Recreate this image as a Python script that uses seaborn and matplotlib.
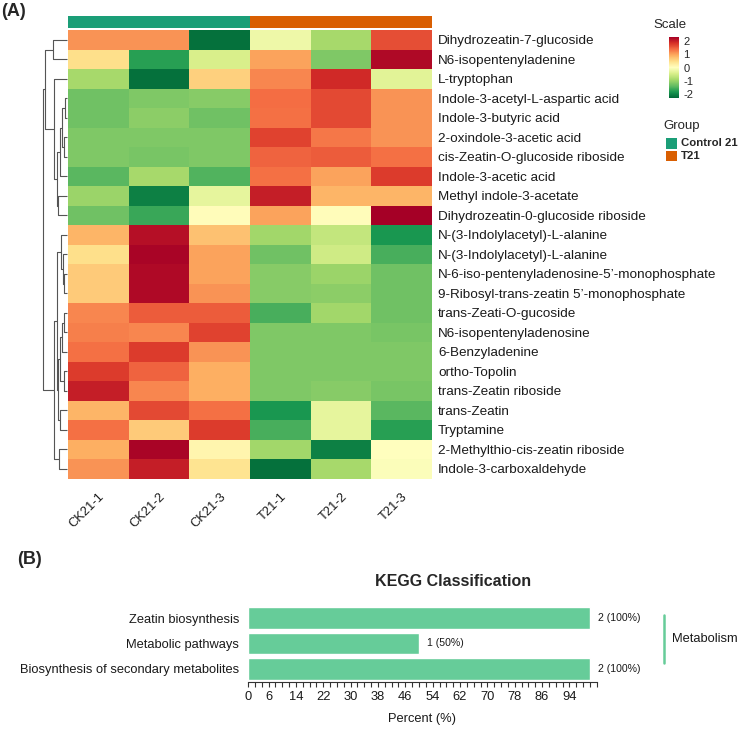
import numpy as np
import pandas as pd
import matplotlib
matplotlib.use("Agg")
import matplotlib.pyplot as plt
import seaborn as sns
from matplotlib.colors import ListedColormap
from matplotlib.patches import Rectangle
from matplotlib.lines import Line2D

# ---------------- data ----------------
metabolites = [
    "Dihydrozeatin-7-glucoside", "N6-isopentenyladenine", "L-tryptophan",
    "Indole-3-acetyl-L-aspartic acid", "Indole-3-butyric acid", "2-oxindole-3-acetic acid",
    "cis-Zeatin-O-glucoside riboside", "Indole-3-acetic acid", "Methyl indole-3-acetate",
    "Dihydrozeatin-0-glucoside riboside", "N-(3-Indolylacetyl)-L-alanine",
    "N-(3-Indolylacetyl)-L-alanine", "N-6-iso-pentenyladenosine-5\u2019-monophosphate",
    "9-Ribosyl-trans-zeatin 5\u2019-monophosphate", "trans-Zeati-O-gucoside",
    "N6-isopentenyladenosine", "6-Benzyladenine", "ortho-Topolin", "trans-Zeatin riboside",
    "trans-Zeatin", "Tryptamine", "2-Methylthio-cis-zeatin riboside", "Indole-3-carboxaldehyde",
]
samples = ["CK21-1", "CK21-2", "CK21-3", "T21-1", "T21-2", "T21-3"]
sample_groups = ["Control 21", "Control 21", "Control 21", "T21", "T21", "T21"]
group_names = ["Control 21", "T21"]
group_colors = ["#1B9E77", "#D95F02"]

ck21_1 = [1.1, 0.45, -0.9, -1.3, -1.3, -1.2, -1.2, -1.45, -1.0, -1.3, 0.85, 0.45,
          0.65, 0.65, 1.2, 1.25, 1.35, 1.75, 2.0, 0.85, 1.35, 0.9, 1.1]
ck21_2 = [1.1, -1.75, -2.2, -1.2, -1.1, -1.2, -1.25, -0.9, -2.05, -1.65, 2.15, 2.25,
          2.2, 2.2, 1.5, 1.2, 1.75, 1.45, 1.2, 1.65, 0.65, 2.25, 2.0]
ck21_3 = [-2.2, -0.45, 0.6, -1.15, -1.3, -1.2, -1.2, -1.5, -0.3, 0.05, 0.75, 1.0,
          1.0, 1.1, 1.5, 1.7, 1.1, 0.9, 0.9, 1.35, 1.75, 0.15, 0.4]
t21_1 = [-0.2, 1.0, 1.2, 1.38, 1.35, 1.7, 1.45, 1.35, 2.0, 1.0, -0.95, -1.3,
         -1.15, -1.15, -1.55, -1.2, -1.2, -1.2, -1.2, -1.85, -1.55, -0.95, -2.2]
t21_2 = [-0.9, -1.2, 1.9, 1.65, 1.65, 1.3, 1.5, 1.0, 0.85, 0.05, -0.65, -0.55,
         -1.0, -1.1, -0.95, -1.2, -1.2, -1.2, -1.15, -0.3, -0.3, -2.05, -0.9]
t21_3 = [1.6, 2.2, -0.35, 1.1, 1.1, 1.1, 1.35, 1.75, 0.85, 2.3, -1.85, -1.55,
         -1.3, -1.3, -1.3, -1.25, -1.2, -1.2, -1.25, -1.45, -1.75, 0.0, -0.05]

# row dendrogram: (merge height, left, right), leaves = row index
row_tree = (10.0,
            (9.25, (5.9, 0, 1),
                   (5.4, 2, (4.0, (2.8, (2.1, (0.9, 3, 4), (1.45, 5, 6)), 7), (3.6, 8, 9)))),
            (5.3, (4.0, (2.7, 10, (1.65, 11, (1.05, 12, 13))),
                        (3.55, (2.9, (2.1, (1.45, 14, 15), 16), (1.45, 17, 18)), (2.9, 19, 20))),
                  (3.2, 21, 22)))

kegg_pathways = ["Zeatin biosynthesis", "Metabolic pathways", "Biosynthesis of secondary metabolites"]
kegg_counts = [2, 1, 2]
kegg_percent = [100, 50, 100]
kegg_major_ticks = [0, 6, 14, 22, 30, 38, 46, 54, 62, 70, 78, 86, 94]
kegg_class = "Metabolism"

# ---------------- style ----------------
sns.set_style("white")
plt.rcParams["font.family"] = ["Liberation Sans", "DejaVu Sans"]
plt.rcParams["axes.unicode_minus"] = False
TXT = "#1a1a1a"

W, H = 739, 729
fig = plt.figure(figsize=(W / 100, H / 100), dpi=100)


def fr(x0, y0, x1, y1):
    """pixel box (top-left origin) -> figure fraction rect"""
    return [x0 / W, 1 - y1 / H, (x1 - x0) / W, (y1 - y0) / H]


# ---------------- heatmap ----------------
df = pd.DataFrame({s: v for s, v in zip(samples, [ck21_1, ck21_2, ck21_3, t21_1, t21_2, t21_3])})

ax_hm = fig.add_axes(fr(68, 30, 432, 478.5))
ax_cb = fig.add_axes(fr(669, 37, 679, 98))
sns.heatmap(df, ax=ax_hm, cmap="RdYlGn_r", vmin=-2.3, vmax=2.3, cbar_ax=ax_cb,
            cbar_kws={"ticks": [-2, -1, 0, 1, 2]}, xticklabels=samples,
            yticklabels=metabolites)
ax_hm.yaxis.tick_right()
ax_hm.set_yticklabels(metabolites, rotation=0, fontsize=9.7, color=TXT)
ax_hm.tick_params(axis="y", length=0, pad=4.3)
ax_hm.set_xticklabels(samples, rotation=45, ha="right", rotation_mode="anchor",
                      fontsize=9.3, color=TXT)
ax_hm.tick_params(axis="x", length=0, pad=8.5)
ax_hm.set_xlabel("")
ax_hm.set_ylabel("")

cb = ax_hm.collections[0].colorbar
cb.outline.set_visible(False)
ax_cb.tick_params(labelsize=8, length=2, width=0.8, color="white", pad=1)
ax_cb.set_yticklabels(["-2", "-1", "0", "1", "2"])
fig.text(653 / W, 1 - 25 / H, "Scale", fontsize=9.5, va="center", ha="left")

# group annotation bar
ax_ann = fig.add_axes(fr(68, 16, 432, 28))
codes = pd.DataFrame([[group_names.index(g) for g in sample_groups]], columns=samples)
sns.heatmap(codes, ax=ax_ann, cmap=ListedColormap(group_colors), vmin=-0.5, vmax=1.5,
            cbar=False, xticklabels=False, yticklabels=False)

# group legend
fig.text(663 / W, 1 - 126 / H, "Group", fontsize=9.5, va="center", ha="left")
for i, (g, c) in enumerate(zip(group_names, group_colors)):
    y0 = 138 + i * 12.5
    fig.patches.append(Rectangle((666 / W, 1 - (y0 + 10.5) / H), 11 / W, 10.5 / H,
                                 transform=fig.transFigure, facecolor=c, edgecolor="none"))
    fig.text(681 / W, 1 - (y0 + 5.2) / H, g, fontsize=8.2, fontweight="bold",
             va="center", ha="left")

# row dendrogram
ax_den = fig.add_axes(fr(43, 30, 67, 478.5))


def draw_tree(node, ax):
    if isinstance(node, int):
        return node + 0.5, 0.0
    h, left, right = node
    yl, hl = draw_tree(left, ax)
    yr, hr = draw_tree(right, ax)
    ax.plot([hl, h, h, hr], [yl, yl, yr, yr], color="#555555", lw=0.8,
            clip_on=False, solid_capstyle="butt")
    return (yl + yr) / 2, h


draw_tree(row_tree, ax_den)
ax_den.set_xlim(10, 0)
ax_den.set_ylim(len(metabolites), 0)
ax_den.axis("off")

fig.text(1 / W, 1 - 11 / H, "(A)", fontsize=13, fontweight="bold", va="center", ha="left")
fig.text(17 / W, 1 - 559 / H, "(B)", fontsize=13, fontweight="bold", va="center", ha="left")

# ---------------- KEGG bar chart ----------------
bar_color = "#66CC99"
FS = 9.3
ax_bar = fig.add_axes(fr(248, 605.5, 248 + 102 * 3.42, 681.5))
kdf = pd.DataFrame({"pathway": kegg_pathways, "percent": kegg_percent})
sns.barplot(data=kdf, x="percent", y="pathway", orient="h", color=bar_color,
            saturation=1, width=0.86, ax=ax_bar)
ax_bar.set_xlim(0, 102)
ax_bar.set_ylim(2.5, -0.5)
ax_bar.set_xticks(kegg_major_ticks)
ax_bar.set_xticks(np.arange(0, 103, 2), minor=True)
ax_bar.set_xticklabels([str(t) for t in kegg_major_ticks], fontsize=FS, color=TXT)
ax_bar.set_yticks(range(len(kegg_pathways)))
ax_bar.set_yticklabels(kegg_pathways, fontsize=FS, color=TXT)
ax_bar.tick_params(axis="y", length=0, pad=6.5)
ax_bar.tick_params(axis="x", which="both", length=3.6, width=0.8, color="#333333",
                   direction="out", bottom=True, pad=3.5)
for side in ["top", "right", "left"]:
    ax_bar.spines[side].set_visible(False)
ax_bar.spines["bottom"].set_color("#333333")
ax_bar.spines["bottom"].set_linewidth(0.8)
ax_bar.set_ylabel("")
ax_bar.set_xlabel("Percent (%)", fontsize=FS, color=TXT, labelpad=7)
ax_bar.bar_label(ax_bar.containers[0],
                 labels=[f"{c} ({p}%)" for c, p in zip(kegg_counts, kegg_percent)],
                 padding=5.5, fontsize=7.6, color=TXT)

fig.text(453 / W, 1 - 582 / H, "KEGG Classification", fontsize=11.5, fontweight="bold",
         ha="center", va="center")
fig.lines.append(Line2D([664 / W, 664 / W], [1 - 615 / H, 1 - 663 / H],
                        transform=fig.transFigure, color=bar_color, lw=1.8))
fig.text(672 / W, 1 - 639 / H, kegg_class, fontsize=FS, va="center", ha="left", color=TXT)

fig.savefig("out.png", dpi=100)
